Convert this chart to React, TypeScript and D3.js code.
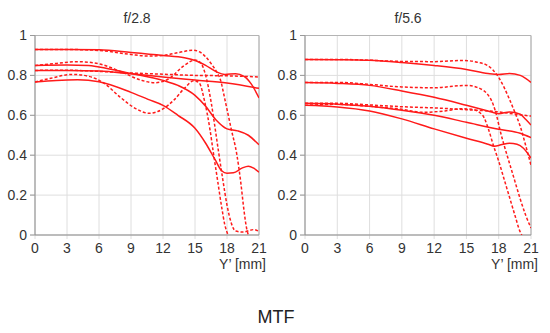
import React from 'react';
import * as d3 from 'd3';

const X_TICKS = [0, 3, 6, 9, 12, 15, 18, 21];
const Y_TICKS = [0, 0.2, 0.4, 0.6, 0.8, 1];
const Y_TICK_LABELS = ['0', '0.2', '0.4', '0.6', '0.8', '1'];
const PANEL_TITLES = ['f/2.8', 'f/5.6'];
const X_LABEL = 'Y’ [mm]';
const CHART_TITLE = 'MTF';

type Pt = [number, number];

// f/2.8 — solid (sagittal)
const F28_SOLID_1: Pt[] = [[0, 0.93], [3, 0.93], [6, 0.928], [9, 0.915], [12, 0.9], [14, 0.888], [15, 0.875], [16, 0.85], [17, 0.818], [17.8, 0.805], [18.8, 0.808], [19.6, 0.795], [20.3, 0.755], [21, 0.687]];
const F28_SOLID_2: Pt[] = [[0, 0.85], [3, 0.852], [5, 0.85], [6, 0.842], [9, 0.81], [12, 0.775], [13.4, 0.75], [15, 0.7], [16, 0.645], [17, 0.575], [18, 0.532], [19, 0.522], [20, 0.5], [21, 0.452]];
const F28_SOLID_3: Pt[] = [[0, 0.825], [3, 0.825], [6, 0.822], [9, 0.808], [12, 0.792], [15, 0.777], [18, 0.762], [21, 0.735]];
const F28_SOLID_4: Pt[] = [[0, 0.767], [2, 0.775], [4, 0.778], [6, 0.768], [9, 0.715], [10.6, 0.68], [12, 0.65], [13.4, 0.6], [15, 0.535], [16, 0.46], [16.9, 0.376], [17.5, 0.322], [18, 0.31], [18.6, 0.312], [19.4, 0.335], [20, 0.345], [20.5, 0.335], [21, 0.315]];

// f/2.8 — dashed (meridional)
const F28_DASH_1: Pt[] = [[0, 0.93], [3, 0.93], [6, 0.925], [9, 0.905], [10.5, 0.897], [12, 0.9], [13.5, 0.915], [14.8, 0.926], [15.5, 0.916], [16, 0.893], [16.5, 0.86], [17, 0.82], [17.4, 0.775], [17.8, 0.68], [18.4, 0.53], [18.9, 0.41], [19.3, 0.26], [19.6, 0.12], [19.85, 0.03], [20, 0.0]];
const F28_DASH_2: Pt[] = [[0, 0.85], [2, 0.86], [4, 0.869], [6, 0.858], [8, 0.82], [10, 0.775], [11.2, 0.763], [12.5, 0.782], [14, 0.85], [15, 0.877], [15.5, 0.865], [16, 0.8], [16.5, 0.67], [16.9, 0.53], [17.2, 0.42], [17.6, 0.28], [18, 0.15], [18.4, 0.06], [18.8, 0.02], [19.5, 0.015], [20.5, 0.027], [21, 0.018]];
const F28_DASH_3: Pt[] = [[0, 0.825], [3, 0.826], [6, 0.82], [9, 0.812], [12, 0.806], [15, 0.8], [18, 0.798], [21, 0.792]];
const F28_DASH_4: Pt[] = [[0, 0.767], [1.5, 0.786], [3.5, 0.805], [5, 0.796], [6.5, 0.76], [8, 0.69], [9.5, 0.632], [10.7, 0.61], [12, 0.632], [13, 0.675], [14, 0.735], [14.9, 0.773], [15.4, 0.762], [15.9, 0.67], [16.4, 0.53], [16.7, 0.42], [17.1, 0.28], [17.5, 0.14], [17.8, 0.05], [18.1, 0.0]];

// f/5.6 — solid (sagittal)
const F56_SOLID_1: Pt[] = [[0, 0.88], [3, 0.879], [6, 0.876], [9, 0.865], [12, 0.85], [15, 0.83], [17, 0.81], [18, 0.805], [19, 0.81], [20, 0.8], [20.5, 0.785], [21, 0.765]];
const F56_SOLID_2: Pt[] = [[0, 0.764], [3, 0.76], [6, 0.75], [9, 0.722], [12, 0.69], [15, 0.65], [17, 0.622], [18, 0.608], [19, 0.617], [20, 0.605], [20.5, 0.58], [21, 0.551]];
const F56_SOLID_3: Pt[] = [[0, 0.66], [3, 0.656], [6, 0.645], [9, 0.625], [12, 0.6], [15, 0.565], [18, 0.53], [20, 0.51], [21, 0.488]];
const F56_SOLID_4: Pt[] = [[0, 0.65], [3, 0.642], [6, 0.622], [9, 0.582], [12, 0.532], [15, 0.485], [17, 0.455], [17.6, 0.445], [18.2, 0.452], [19, 0.46], [19.7, 0.455], [20.3, 0.435], [21, 0.385]];

// f/5.6 — dashed (meridional)
const F56_DASH_1: Pt[] = [[0, 0.88], [3, 0.88], [6, 0.876], [9, 0.87], [12, 0.869], [14.7, 0.875], [16, 0.866], [17, 0.848], [17.5, 0.825], [18, 0.79], [18.5, 0.74], [19, 0.68], [19.5, 0.615], [20, 0.545], [20.5, 0.45], [21, 0.35]];
const F56_DASH_2: Pt[] = [[0, 0.764], [3, 0.765], [6, 0.755], [9, 0.742], [12, 0.738], [15, 0.75], [16, 0.74], [17.2, 0.687], [17.8, 0.6], [18.1, 0.53], [18.5, 0.45], [19, 0.36], [19.5, 0.27], [20, 0.18], [20.5, 0.1], [21, 0.035]];
const F56_DASH_3: Pt[] = [[0, 0.66], [3, 0.66], [6, 0.652], [9, 0.643], [12, 0.637], [15, 0.628], [18, 0.617], [19.5, 0.606], [21, 0.596]];
const F56_DASH_4: Pt[] = [[0, 0.65], [3, 0.655], [6, 0.645], [9, 0.63], [11, 0.615], [13, 0.622], [14.5, 0.633], [15.5, 0.63], [16.5, 0.6], [17.05, 0.53], [17.5, 0.45], [18, 0.37], [18.5, 0.28], [19, 0.19], [19.5, 0.1], [20, 0.015], [20.15, 0.0]];

const PANELS = [
  { title: PANEL_TITLES[0], solid: [F28_SOLID_1, F28_SOLID_2, F28_SOLID_3, F28_SOLID_4], dashed: [F28_DASH_1, F28_DASH_2, F28_DASH_3, F28_DASH_4] },
  { title: PANEL_TITLES[1], solid: [F56_SOLID_1, F56_SOLID_2, F56_SOLID_3, F56_SOLID_4], dashed: [F56_DASH_1, F56_DASH_2, F56_DASH_3, F56_DASH_4] },
];

const LAYOUT = [
  { left: 35, right: 259, titleX: 137 },
  { left: 305, right: 531, titleX: 408 },
];
const TOP = 35.5;
const BOTTOM = 235;
const RED = '#ff1a1a';
const FONT = '"Liberation Sans", Arial, sans-serif';

function Panel({ idx }: { idx: number }) {
  const p = PANELS[idx];
  const L = LAYOUT[idx];
  const x = d3.scaleLinear().domain([0, 21]).range([L.left, L.right]);
  const y = d3.scaleLinear().domain([0, 1]).range([BOTTOM, TOP]);
  const line = d3
    .line<Pt>()
    .x((d) => x(d[0]))
    .y((d) => y(d[1]))
    .curve(d3.curveMonotoneX);
  const clipId = `clip-${idx}`;
  return (
    <g>
      <defs>
        <clipPath id={clipId}>
          <rect x={L.left} y={TOP - 2} width={L.right - L.left} height={BOTTOM - TOP + 2} />
        </clipPath>
      </defs>
      {X_TICKS.map((t) => (
        <line key={'gx' + t} x1={x(t)} x2={x(t)} y1={TOP} y2={BOTTOM + 4} stroke="#dedede" strokeWidth={1} />
      ))}
      {Y_TICKS.map((t) => (
        <line key={'gy' + t} x1={L.left - 5} x2={L.right} y1={y(t)} y2={y(t)} stroke="#dedede" strokeWidth={1} />
      ))}
      <line x1={L.left} x2={L.right} y1={TOP} y2={TOP} stroke="#b4b4b4" strokeWidth={1.2} />
      <line x1={L.right} x2={L.right} y1={TOP} y2={BOTTOM} stroke="#b4b4b4" strokeWidth={1.2} />
      <line x1={L.left} x2={L.left} y1={TOP} y2={BOTTOM} stroke="#9a9a9a" strokeWidth={1.2} />
      <line x1={L.left} x2={L.right} y1={BOTTOM} y2={BOTTOM} stroke="#8a8a8a" strokeWidth={1.2} />
      {Y_TICKS.map((t) => (
        <line key={'ty' + t} x1={L.left - 5} x2={L.left} y1={y(t)} y2={y(t)} stroke="#9a9a9a" strokeWidth={1} />
      ))}
      <g clipPath={`url(#${clipId})`} fill="none" stroke={RED} strokeWidth={1.5}>
        {p.solid.map((s, i) => (
          <path key={'s' + i} d={line(s) || ''} />
        ))}
        {p.dashed.map((s, i) => (
          <path key={'d' + i} d={line(s) || ''} strokeDasharray="3,2" />
        ))}
      </g>
      {Y_TICKS.map((t, i) => (
        <text key={'ly' + t} x={L.left - 8} y={y(t)} dy="0.35em" textAnchor="end" fontSize={14} fill="#333" fontFamily={FONT}>
          {Y_TICK_LABELS[i]}
        </text>
      ))}
      {X_TICKS.map((t) => (
        <text key={'lx' + t} x={x(t)} y={253} textAnchor="middle" fontSize={14} fill="#333" fontFamily={FONT}>
          {t}
        </text>
      ))}
      <text x={L.right + 7} y={269} textAnchor="end" fontSize={14} fill="#333" fontFamily={FONT}>
        {X_LABEL}
      </text>
      <text x={L.titleX} y={22.5} textAnchor="middle" fontSize={14} fill="#333" fontFamily={FONT}>
        {p.title}
      </text>
    </g>
  );
}

export default function App() {
  return (
    <svg width={550} height={333} style={{ position: 'absolute', left: 0, top: 0, background: '#fff' }}>
      <rect x={0} y={0} width={550} height={333} fill="#fff" />
      <Panel idx={0} />
      <Panel idx={1} />
      <text x={276} y={323} textAnchor="middle" fontSize={18} fill="#222" fontFamily={FONT}>
        {CHART_TITLE}
      </text>
    </svg>
  );
}
